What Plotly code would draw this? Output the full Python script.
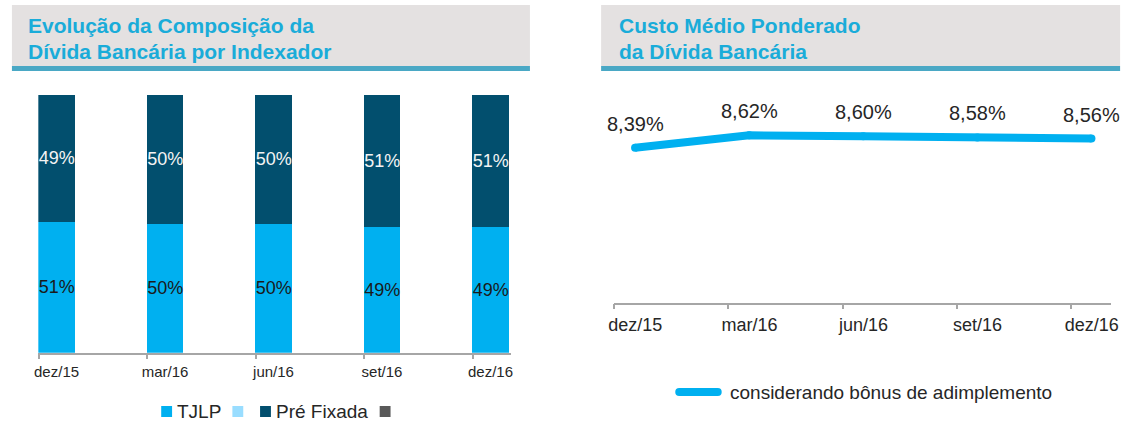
import plotly.graph_objects as go

# --- data -------------------------------------------------------------
periodos = ["dez/15", "mar/16", "jun/16", "set/16", "dez/16"]
tjlp = [51, 50, 50, 49, 49]
pre_fixada = [49, 50, 50, 51, 51]
custo_medio = [8.39, 8.62, 8.60, 8.58, 8.56]

titulo_esq = ["Evolução da Composição da", "Dívida Bancária por Indexador"]
titulo_dir = ["Custo Médio Ponderado", "da Dívida Bancária"]
legenda_esq = ["TJLP", "", "Pré Fixada", ""]
legenda_dir = "considerando bônus de adimplemento"

# --- styling ----------------------------------------------------------
W, H = 1136, 423
FONT = "Arial, Liberation Sans, sans-serif"
CIANO = "#00B0F0"
AZUL_ESCURO = "#024F6E"
AZUL_CLARO = "#99DDFF"
CINZA = "#595959"
TITULO_COR = "#1AACD9"
CAIXA_COR = "#E4E1E1"
FAIXA_COR = "#4AA8C5"
EIXO_COR = "#A6A6A6"
TEXTO_COR = "#262626"


def px(x):
    return x / W


def py(y):
    return 1 - y / H


idx = list(range(len(periodos)))

fig = go.Figure()

# stacked bars (left panel)
fig.add_trace(go.Bar(
    x=idx, y=tjlp, offset=0, width=0.337,
    marker=dict(color=CIANO, line=dict(width=0)),
    text=[f"{v}%" for v in tjlp], textposition="inside",
    insidetextanchor="middle", constraintext="none", textangle=0,
    textfont=dict(family=FONT, size=18, color="#1A1A1A"),
    xaxis="x", yaxis="y", showlegend=False, hoverinfo="skip",
))
fig.add_trace(go.Bar(
    x=idx, y=pre_fixada, offset=0, width=0.337,
    marker=dict(color=AZUL_ESCURO, line=dict(width=0)),
    text=[f"{v}%" for v in pre_fixada], textposition="inside",
    insidetextanchor="middle", constraintext="none", textangle=0,
    textfont=dict(family=FONT, size=18, color="#F4F4F4"),
    xaxis="x", yaxis="y", showlegend=False, hoverinfo="skip",
))

# weighted cost line (right panel)
fig.add_trace(go.Scatter(
    x=idx, y=custo_medio, mode="lines+markers",
    line=dict(color=CIANO, width=8),
    marker=dict(color=CIANO, size=8, line=dict(width=0)),
    cliponaxis=False,
    xaxis="x2", yaxis="y2", showlegend=False, hoverinfo="skip",
))

shapes = []
annotations = []

# value labels above the line points
for i, v in zip(idx, custo_medio):
    annotations.append(dict(
        text=f"{v:.2f}".replace(".", ",") + "%", xref="x2", yref="y2",
        x=i, y=v, yshift=24, xanchor="center", yanchor="middle",
        showarrow=False, font=dict(family=FONT, size=20, color=TEXTO_COR)))

# header boxes with underline stripe
for (x0, x1), linhas, tx in [((6, 530), titulo_esq, 20), ((602, 1127), titulo_dir, 618)]:
    shapes.append(dict(type="rect", xref="paper", yref="paper",
                       x0=px(x0), x1=px(x1), y0=py(66), y1=py(5),
                       fillcolor=CAIXA_COR, line=dict(width=0), layer="below"))
    shapes.append(dict(type="rect", xref="paper", yref="paper",
                       x0=px(x0), x1=px(x1), y0=py(71), y1=py(66),
                       fillcolor=FAIXA_COR, line=dict(width=0), layer="below"))
    for k, linha in enumerate(linhas):
        annotations.append(dict(
            text=f"<b>{linha}</b>", xref="paper", yref="paper",
            x=px(tx), y=py(25.5 + 26.5 * k), xanchor="left", yanchor="middle",
            showarrow=False, font=dict(family=FONT, size=21, color=TITULO_COR)))

# left legend (manual squares + labels)
cores_leg = [CIANO, AZUL_CLARO, AZUL_ESCURO, CINZA]
pos_leg = [157, 229, 257, 378]
for cor, x0, nome in zip(cores_leg, pos_leg, legenda_esq):
    shapes.append(dict(type="rect", xref="paper", yref="paper",
                       x0=px(x0), x1=px(x0 + 11), y0=py(417), y1=py(406),
                       fillcolor=cor, line=dict(width=0)))
    if nome:
        annotations.append(dict(
            text=nome, xref="paper", yref="paper", x=px(x0 + 14), y=py(411.5),
            xanchor="left", yanchor="middle", showarrow=False,
            font=dict(family=FONT, size=19, color=TEXTO_COR)))

# right legend (thick rounded line + label)
ly = 392
shapes.append(dict(type="line", xref="paper", yref="paper",
                   x0=px(681), x1=px(720), y0=py(ly), y1=py(ly),
                   line=dict(color=CIANO, width=8)))
for cx in (681, 720):
    shapes.append(dict(type="circle", xref="paper", yref="paper",
                       x0=px(cx - 4), x1=px(cx + 4), y0=py(ly + 4), y1=py(ly - 4),
                       fillcolor=CIANO, line=dict(width=0)))
annotations.append(dict(
    text=legenda_dir, xref="paper", yref="paper", x=px(730), y=py(ly),
    xanchor="left", yanchor="middle", showarrow=False,
    font=dict(family=FONT, size=19, color=TEXTO_COR)))

# axis geometry
esq_x0, esq_x1 = 32.7, 510.5
esq_passo = 109.8
dir_x0, dir_x1 = 615, 1118
dir_passo = 115.5
dir_desloc = 21.0 / dir_passo

fig.update_layout(
    width=W, height=H,
    margin=dict(l=0, r=0, t=0, b=0),
    paper_bgcolor="white", plot_bgcolor="rgba(0,0,0,0)",
    barmode="stack", bargap=0,
    font=dict(family=FONT, color=TEXTO_COR),
    shapes=shapes, annotations=annotations,
    xaxis=dict(
        domain=[px(esq_x0), px(esq_x1)],
        range=[-0.002, (esq_x1 - esq_x0) / esq_passo],
        tickmode="array", tickvals=idx, ticktext=periodos,
        ticklabelshift=18, ticks="outside", ticklen=5, tickwidth=1.5,
        tickcolor=EIXO_COR, showline=True, linecolor=EIXO_COR, linewidth=1.5,
        showgrid=False, zeroline=False, fixedrange=True,
        tickfont=dict(family=FONT, size=15, color=TEXTO_COR),
    ),
    yaxis=dict(
        domain=[py(352.7), py(94.5)], range=[0, 100],
        visible=False, showgrid=False, zeroline=False, fixedrange=True,
    ),
    xaxis2=dict(
        domain=[px(dir_x0), px(dir_x1)],
        range=[-dir_desloc - 0.003, (dir_x1 - dir_x0) / dir_passo - dir_desloc],
        tickmode="array", tickvals=[i - dir_desloc for i in idx], ticktext=periodos,
        ticklabelshift=21, ticks="outside", ticklen=5, tickwidth=1.5,
        tickcolor=EIXO_COR, showline=True, linecolor=EIXO_COR, linewidth=1.5,
        showgrid=False, zeroline=False, fixedrange=True, anchor="y2",
        tickfont=dict(family=FONT, size=18, color=TEXTO_COR),
    ),
    yaxis2=dict(
        domain=[py(302.7), py(95)], range=[5.52, 9.366], anchor="x2",
        visible=False, showgrid=False, zeroline=False, fixedrange=True,
    ),
)

fig.write_html("out.html")
